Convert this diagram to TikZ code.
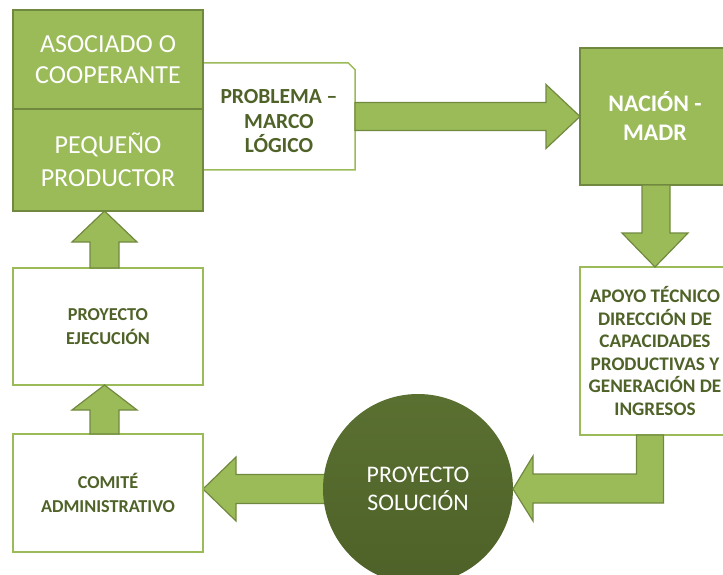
\documentclass[tikz,border=0pt]{standalone}
\usepackage{fontspec}
\setmainfont{Carlito}
\usetikzlibrary{positioning, calc, shapes.misc, backgrounds}

\definecolor{leaf}{HTML}{9BBB59}
\definecolor{leafdark}{HTML}{71893F}
\definecolor{olivetext}{HTML}{4F6228}
\definecolor{soltop}{HTML}{5A7031}
\definecolor{solbot}{HTML}{4E6128}

\begin{document}
\begin{tikzpicture}[x=1pt, y=-1pt, outer sep=0pt, node distance=0pt,
    greenbox/.style={draw=leafdark, fill=leaf, line width=1.5pt, text=white,
      align=center, minimum width=190pt},
    whitebox/.style={draw=leaf, fill=white, line width=1.5pt, text=olivetext,
      align=center, font=\bfseries\fontsize{18.2}{24}\selectfont},
    blk/.style={draw=leafdark, fill=leaf, line width=1.2pt, line join=miter}]

  \clip (0,0) rectangle (723,575);

  \node[whitebox, chamfered rectangle, chamfered rectangle corners=north east,
    chamfered rectangle xsep=17pt, chamfered rectangle ysep=18pt,
    minimum width=152pt, minimum height=107pt,
    label={[yshift=-5pt, align=center, text=olivetext,
      font=\bfseries\fontsize{21.5}{24.5}\selectfont]center:PROBLEMA –\\MARCO\\LÓGICO}]
    (prob) at (279,116.5) {};
  \node[greenbox, minimum height=99pt, font=\fontsize{26}{31}\selectfont]
    (asociado) at (108,59.5) {ASOCIADO O\\COOPERANTE};
  \node[greenbox, minimum height=102pt, font=\fontsize{26}{33}\selectfont,
    below=of asociado] (productor) {PEQUEÑO\\PRODUCTOR};
  \node[whitebox, minimum width=190pt, minimum height=117pt,
    below=57pt of productor] (ejec) {PROYECTO\\EJECUCIÓN};
  \node[whitebox, minimum width=190pt, minimum height=118pt,
    below=49pt of ejec] (comite) {COMITÉ\\ADMINISTRATIVO};
  \node[greenbox, minimum width=150pt, minimum height=137pt,
    font=\bfseries\fontsize{23.8}{29}\selectfont] (nacion) at (655,116.5)
    {NACIÓN -\\MADR};
  \node[whitebox, minimum width=150pt, minimum height=168pt,
    below=82pt of nacion, font=\bfseries\fontsize{19.2}{22.5}\selectfont] (apoyo)
    {APOYO TÉCNICO\\DIRECCIÓN DE\\CAPACIDADES\\PRODUCTIVAS Y\\GENERACIÓN DE\\INGRESOS};
  \node[circle, minimum size=190pt, top color=soltop, bottom color=solbot,
    text=white, align=center, font=\fontsize{23.8}{28}\selectfont] (sol)
    at (418,489) {PROYECTO\\SOLUCIÓN};

  % block arrows
  \draw[blk] ($(prob.east)+(0,-14)$) -- ($(nacion.west)+(-34,-14)$)
    -- ($(nacion.west)+(-34,-32)$) -- (nacion.west) -- ($(nacion.west)+(-34,32)$)
    -- ($(nacion.west)+(-34,14)$) -- ($(prob.east)+(0,14)$) -- cycle;
  \draw[blk] ($(nacion.south)+(-13,0)$) -- ($(apoyo.north)+(-13,-34)$)
    -- ($(apoyo.north)+(-33,-34)$) -- (apoyo.north) -- ($(apoyo.north)+(33,-34)$)
    -- ($(apoyo.north)+(15,-34)$) -- ($(nacion.south)+(15,0)$) -- cycle;
  \coordinate (bend) at ($(apoyo.south)+(-5,0)$);
  \draw[blk] ($(bend)+(-13.5,0)$) -- ($(bend |- sol.east)+(-13.5,-15)$)
    -- ($(sol.east)+(20,-15)$) -- ($(sol.east)+(20,-33)$) -- (sol.east)
    -- ($(sol.east)+(20,32)$) -- ($(sol.east)+(20,14)$)
    -- ($(bend |- sol.east)+(13.5,14)$) -- ($(bend)+(13.5,0)$) -- cycle;
  \begin{pgfonlayer}{background}
    \draw[blk] ($(sol.center)+(0,-14.5)$) -- ($(comite.east |- sol.west)+(33,-14.5)$)
      -- ($(comite.east |- sol.west)+(33,-32)$) -- (comite.east |- sol.west)
      -- ($(comite.east |- sol.west)+(33,32)$) -- ($(comite.east |- sol.west)+(33,14.5)$)
      -- ($(sol.center)+(0,14.5)$) -- cycle;
  \end{pgfonlayer}
  \foreach \from/\to/\head in {ejec/productor/31, comite/ejec/25}
    \draw[blk] ($(\from.north)+(-18,0)$) -- ($(\to.south)+(-18,\head)$)
      -- ($(\to.south)+(-36,\head)$) -- ($(\to.south)+(-3.5,0)$)
      -- ($(\to.south)+(29,\head)$) -- ($(\to.south)+(11,\head)$)
      -- ($(\from.north)+(11,0)$) -- cycle;
\end{tikzpicture}
\end{document}
